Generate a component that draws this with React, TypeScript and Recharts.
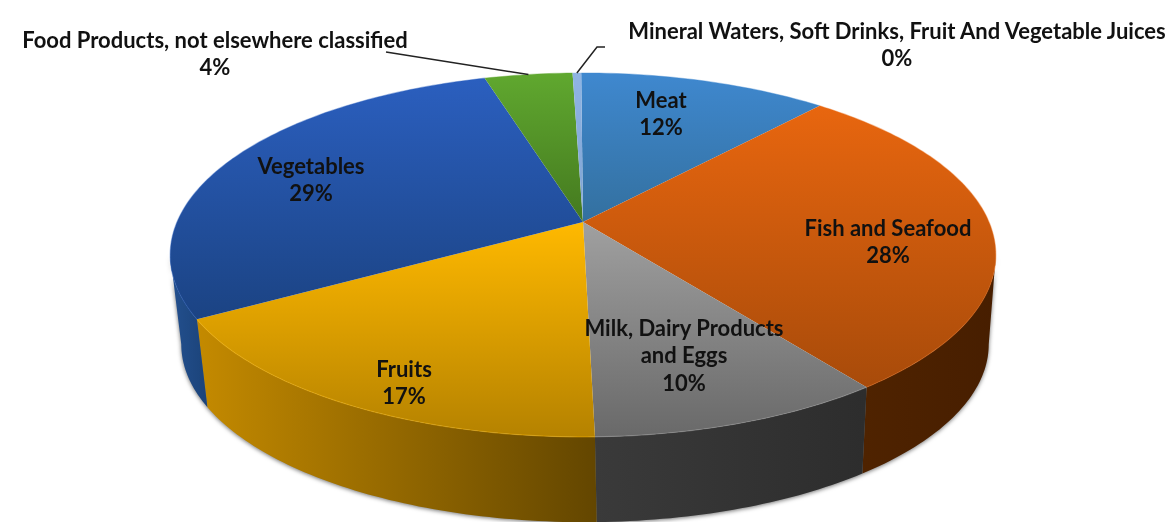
import { Pie, PieChart } from 'recharts'

const categories = [
  'Meat',
  'Fish and Seafood',
  'Milk, Dairy Products and Eggs',
  'Fruits',
  'Vegetables',
  'Food Products, not elsewhere classified',
  'Mineral Waters, Soft Drinks, Fruit And Vegetable Juices',
]
const shares = [11.6, 28.3, 9.8, 17.0, 28.8, 4.1, 0.4]
const percentLabels = ['12%', '28%', '10%', '17%', '29%', '4%', '0%']

// label text broken the way the reference wraps it
const labelLines = [
  ['Meat'],
  ['Fish and Seafood'],
  ['Milk, Dairy Products', 'and Eggs'],
  ['Fruits'],
  ['Vegetables'],
  ['Food Products, not elsewhere classified'],
  ['Mineral Waters, Soft Drinks, Fruit And Vegetable Juices'],
]

const WIDTH = 1166
const HEIGHT = 522
const CX = 583
const CY = 222
const RADIUS = 150

const topColors = [
  ['#3f88cf', '#33709f'],
  ['#e8660f', '#a84b0a'],
  ['#a0a0a0', '#696969'],
  ['#ffb900', '#b58200'],
  ['#2b5fbf', '#1b4383'],
  ['#60a82f', '#44791f'],
  ['#8fb4e3', '#7fa3d2'],
]
const wallColors = [
  ['#2a5d8c', '#2a5d8c'],
  ['#4f2300', '#471e00'],
  ['#3a3a3a', '#2d2d2d'],
  ['#c48a00', '#634600'],
  ['#23508f', '#1b4379'],
  ['#3d6c1d', '#3d6c1d'],
  ['#6a8cb8', '#6a8cb8'],
]

// first line centre of each label
const labelSpots = [
  { x: 661, y: 99 },
  { x: 888, y: 227 },
  { x: 684, y: 327 },
  { x: 404, y: 368 },
  { x: 311, y: 165 },
  { x: 215, y: 39 },
  { x: 897, y: 30 },
]

// tilt of the disc: circle -> perspective ellipse
const TILT = 0.181
const SCALE_X = 406 / RADIUS
const SCALE_Y = 176 / RADIUS
const BOTTOM_SCALE = 0.978
const BOTTOM_SHIFT = 2
const DEPTH = 90
// silhouette of the disc, walls past this face away from the viewer
const TANGENT = (Math.asin(TILT) * 180) / Math.PI

const rad = (deg: number) => (deg * Math.PI) / 180

function project(cx: number, cy: number, r: number, deg: number) {
  const u = Math.cos(rad(deg))
  const v = Math.sin(rad(deg))
  const w = 1 + TILT * v
  return { x: cx + (r * SCALE_X * u) / w, y: cy - (r * SCALE_Y * v) / w }
}

function arcPoints(cx: number, cy: number, r: number, from: number, to: number) {
  const n = Math.max(2, Math.ceil(Math.abs(from - to)))
  const pts = []
  for (let i = 0; i <= n; i++) pts.push(project(cx, cy, r, from + ((to - from) * i) / n))
  return pts
}

const toPath = (pts: { x: number; y: number }[]) =>
  pts.map((p, i) => `${i ? 'L' : 'M'}${p.x.toFixed(2)} ${p.y.toFixed(2)}`).join(' ')

function TopSlice(props: any) {
  const { cx, cy, outerRadius, startAngle, endAngle, index } = props
  const rim = arcPoints(cx, cy, outerRadius, startAngle, endAngle)
  return (
    <g>
      <path d={`M${cx} ${cy} ${toPath(rim).replace('M', 'L')} Z`} fill={`url(#top${index})`} />
      <path d={toPath(rim)} fill="none" stroke={topColors[index][0]} strokeWidth={1.2} strokeOpacity={0.4} />
    </g>
  )
}

function WallSlice(props: any) {
  const { cx, cy, outerRadius, startAngle, endAngle, index } = props
  // only the front of the disc shows a wall
  const from = Math.min(startAngle, -TANGENT)
  const to = Math.max(endAngle, -180 + TANGENT)
  if (from <= to) return null
  const upper = arcPoints(cx, cy, outerRadius, from, to)
  const lower = arcPoints(cx + BOTTOM_SHIFT, cy + DEPTH, outerRadius * BOTTOM_SCALE, to, from)
  return <path d={`${toPath(upper)} ${toPath(lower).replace('M', 'L')} Z`} fill={`url(#wall${index})`} />
}

function SliceLabel(props: any) {
  const { cx, cy, outerRadius, midAngle, index } = props
  const spot = labelSpots[index]
  const lines = [...labelLines[index], percentLabels[index]]
  const rim = project(cx, cy, outerRadius, midAngle)
  return (
    <g>
      {index === 5 && (
        <path d={`M386 52 L${rim.x} ${rim.y}`} fill="none" stroke="#222" strokeWidth={1.5} />
      )}
      {index === 6 && (
        <path d={`M605 47 L597 47 L${rim.x} ${rim.y}`} fill="none" stroke="#222" strokeWidth={1.5} />
      )}
      {lines.map((line, i) => (
        <text
          key={line}
          x={spot.x}
          y={spot.y + i * 27.5}
          textAnchor="middle"
          dominantBaseline="central"
          fontFamily="Lato"
          fontWeight={700}
          fontSize={22}
          fill="#111"
        >
          {line}
        </text>
      ))}
    </g>
  )
}

const data = categories.map((name, i) => ({ name, share: shares[i] }))

export default function App() {
  return (
    <div style={{ position: 'absolute', left: 0, top: 0, width: WIDTH, height: HEIGHT, overflow: 'hidden', background: '#fff' }}>
      <style>{`.wall-pie { filter: drop-shadow(0 1px 2px rgba(0,0,0,.55)); } .recharts-surface { filter: blur(0.5px); }`}</style>
      <PieChart width={WIDTH} height={HEIGHT} margin={{ top: 0, right: 0, bottom: 0, left: 0 }}>
        <defs>
          {topColors.map((c, i) => (
            <linearGradient key={i} id={`top${i}`} x1="0" y1="0" x2="0" y2="1">
              <stop offset="0" stopColor={c[0]} />
              <stop offset="1" stopColor={c[1]} />
            </linearGradient>
          ))}
          {wallColors.map((c, i) => (
            <linearGradient key={i} id={`wall${i}`} x1="0" y1="0" x2="1" y2="0">
              <stop offset="0" stopColor={c[0]} />
              <stop offset="1" stopColor={c[1]} />
            </linearGradient>
          ))}
        </defs>
        <Pie
          className="wall-pie"
          data={data}
          dataKey="share"
          nameKey="name"
          cx={CX}
          cy={CY}
          outerRadius={RADIUS}
          startAngle={90.3}
          endAngle={-269.7}
          stroke="none"
          shape={WallSlice}
          isAnimationActive={false}
        />
        <Pie
          data={data}
          dataKey="share"
          nameKey="name"
          cx={CX}
          cy={CY}
          outerRadius={RADIUS}
          startAngle={90.3}
          endAngle={-269.7}
          stroke="none"
          shape={TopSlice}
          label={SliceLabel}
          labelLine={false}
          isAnimationActive={false}
        />
      </PieChart>
    </div>
  )
}
